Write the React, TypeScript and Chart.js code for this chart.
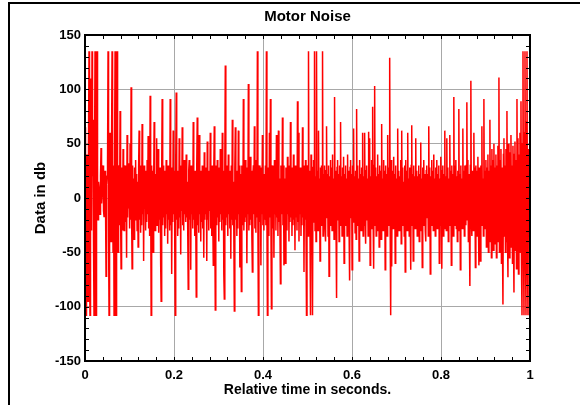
import React, { useEffect, useRef } from 'react';
import { Chart, registerables } from 'chart.js';

Chart.register(...registerables);

// Motor noise samples (dB), evenly spaced from t=0 to t=1
const noiseDb: number[] = [
  65, 20, -108, 30, 40, -10, -95, 50, 135, -60, -108, 70, 110, -30, 135, 20, 72, -40, -108, 30,
  135, -60, -108, 40, 135, 10, -20, 15, 10, -10, -15, 20, 46, -5, 5, 25, 30, -12, -17, 18,
  25, -8, -72, 12, 20, 30, 135, -30, -108, 45, 60, -20, -40, 50, 135, 20, -50, 30, -108, 40,
  135, -20, -108, 35, 135, -40, -50, 25, 30, -25, 80, -15, -65, 28, 20, -30, 45, -20, -30, 22,
  30, -22, 15, -55, 58, -18, 25, -10, 32, -28, 50, -20, 102, -15, -65, 30, -25, 18, -38, 28,
  -20, 35, -12, 22, -30, 15, -45, 28, 62, -20, 30, -32, 12, -25, 68, -15, 22, -58, 30, -10,
  25, -30, 18, -22, 35, -15, 57, -28, 20, -35, 94, 15, -108, 30, -20, 25, -50, 12, 70, -25,
  -30, 22, -15, 55, -25, 18, 45, -32, 15, -20, 28, -60, -95, 20, 91, -25, 30, -18, 25, -35,
  20, -28, 35, -15, 22, -42, 30, -20, 15, -30, 91, -25, 28, -70, 18, -22, 62, -15, 25, -32,
  -108, 30, 97, -20, 25, -35, 15, -28, 55, -18, 22, -52, 30, -12, 65, -25, 20, -30, 35, -15,
  28, -22, 40, -18, 15, -30, -84, 25, 35, -20, 18, -66, 30, -15, 22, -28, 70, -20, 15, -35,
  25, -18, -91, 30, 74, -25, 20, -32, 58, -15, 25, -40, 18, -22, 30, -28, 15, -55, 42, -20,
  28, -15, 22, -58, 52, -20, 18, -30, 25, -12, 60, -28, 20, -35, 30, -18, -62, 25, 66, -22,
  -103, 30, 20, -25, 35, -18, 15, -40, 28, -22, 45, -15, 20, -30, 60, -20, 25, -70, -93, 30,
  122, -25, 30, -18, 22, -35, 40, -15, 25, -28, 18, -56, 30, -20, 72, -25, 15, -32, -104, 28,
  65, -20, 25, -35, 18, -28, 62, -15, 30, -64, 22, -18, -86, 30, 20, -25, 91, -30, 15, -22,
  35, -18, 28, -60, 22, -15, 105, -30, 18, -25, 38, -20, 25, -35, -68, 20, 30, -15, 66, -28,
  20, -32, 35, -18, 135, -20, -108, 25, 30, -22, 18, -62, 28, -15, 58, -25, 22, -30, 15, -20,
  30, -25, 135, -15, -108, 28, 20, -35, 60, -18, 91, -20, -102, 25, 30, -28, 18, -55, 35, -15,
  22, -30, 58, -18, 25, -35, 62, -22, 18, -28, -79, 30, 20, -15, 74, -25, 30, -62, 18, -20,
  -60, 28, 20, -30, 38, -15, 25, -40, 30, -22, 70, -18, 22, -35, 28, -25, 40, -20, 15, -48,
  30, -18, 25, -30, 89, -22, 60, -40, 18, -15, 28, -35, 20, -25, 65, -18, 30, -68, 22, -20,
  35, -25, -108, 30, 20, -35, 135, -20, 25, -30, -108, 40, 20, -15, -108, 28, 35, -22, 135, -30,
  20, -40, 135, -18, 25, -30, 62, -22, 18, -58, 28, -15, 30, -25, 135, -35, 22, -20, 30, -28,
  -40, 25, 66, -18, 22, -35, 30, -72, 20, -25, 35, -15, 28, -30, 40, -22, 18, -38, 93, -20,
  25, -30, -92, 28, 35, -20, 22, -40, 30, -18, 70, -25, 20, -35, 28, -15, 38, -60, 22, -20,
  30, -25, 18, -35, 40, -20, 25, -30, -76, 28, 35, -18, 22, -66, 30, -22, 64, -15, 20, -32,
  25, -38, 82, -20, 30, -25, 18, -58, 35, -15, 22, -30, 28, -20, 60, -35, 20, -25, 60, -18,
  -42, 25, 30, -20, 18, -35, 61, -22, 55, -62, 20, -15, 35, -28, 84, -20, -65, 30, 103, -25,
  28, -35, 20, -18, 40, -30, 22, -45, 30, -15, 25, -38, 68, -20, 18, -30, 35, -22, 25, -66,
  30, -20, 22, -35, 58, -18, 28, -25, 129, -30, -108, 35, -63, 25, 20, -28, 38, -15, 22, -60,
  30, -22, 18, -35, 64, -20, 25, -30, 20, -18, 35, -42, 62, -25, 28, -20, 15, -35, 30, -68,
  35, -20, 25, -30, 60, -22, 18, -35, 28, -15, -66, 30, 67, -25, 22, -58, 30, -18, 20, -28,
  55, -22, 25, -35, 20, -18, 30, -40, 22, -25, 51, -30, 18, -64, 28, -15, 35, -25, 22, -30,
  -40, 25, 30, -18, 22, -35, 66, -20, 28, -70, 20, -25, 35, -15, 25, -30, 40, -22, 18, -35,
  28, -20, 35, -28, 22, -15, 30, -60, 18, -25, 38, -18, -65, 25, 30, -35, 22, -20, 62, -28,
  20, -30, 55, -22, 28, -40, 18, -25, 58, -18, 25, -62, 30, -20, 22, -35, 93, -25, 30, -18,
  35, -28, 20, -40, 25, -18, 82, -30, 22, -66, 30, -20, 18, -28, 64, -22, 25, -35, 30, -15,
  -25, 30, 88, -20, 35, -40, 22, -28, -81, 30, 108, -22, -35, 25, 20, -30, 60, -18, 28, -64,
  30, -20, 25, -35, 38, -18, -62, 28, 22, -58, 30, -25, 66, -22, 18, -35, 91, -28, 25, -20,
  35, -45, 28, -30, 40, -50, 25, -35, 72, -40, 30, -55, 45, -25, 35, -48, 50, -30, 28, -42,
  40, -55, 30, -35, 48, -40, 111, -50, 35, -30, 45, -60, 28, -38, -98, 40, 55, -35, 30, -50,
  45, -40, 80, -30, -73, 50, 35, -55, 42, -35, 58, -45, 30, -60, 48, -38, -87, 40, 52, -48,
  35, -65, 91, -45, 55, -70, 40, -50, 60, -40, 89, -60, -108, 50, 135, -40, -108, 60, 135, -50,
  -108, 70, 135, -60, -108, 45, 40, -30, 50,
];

const timeStart = 0;
const timeEnd = 1;

const xTickValues = [0, 0.2, 0.4, 0.6, 0.8, 1];
const xTickLabels = ['0', '0.2', '0.4', '0.6', '0.8', '1'];
const yTickValues = [-150, -100, -50, 0, 50, 100, 150];
const yTickLabels = ['-150', '-100', '-50', '0', '50', '100', '150'];
const xMinorTicks = [
  0.04, 0.08, 0.12, 0.16, 0.2, 0.24, 0.28, 0.32, 0.36, 0.4, 0.44, 0.48,
  0.52, 0.56, 0.6, 0.64, 0.68, 0.72, 0.76, 0.8, 0.84, 0.88, 0.92, 0.96,
];
const yMinorTicks = [
  -140, -130, -120, -110, -100, -90, -80, -70, -60, -50, -40, -30, -20, -10, 0,
  10, 20, 30, 40, 50, 60, 70, 80, 90, 100, 110, 120, 130, 140,
];

const FONT = "'Liberation Sans', Arial, Helvetica, sans-serif";

const frameTicksPlugin = {
  id: 'frameTicks',
  afterDraw(chart: any) {
    const { ctx, chartArea: a, scales } = chart;
    const xs = scales.x;
    const ys = scales.y;
    ctx.save();
    ctx.strokeStyle = '#000';
    ctx.lineWidth = 1;
    ctx.beginPath();
    for (const v of xMinorTicks) {
      const px = Math.round(xs.getPixelForValue(v)) + 0.5;
      ctx.moveTo(px, a.bottom);
      ctx.lineTo(px, a.bottom - 4);
      ctx.moveTo(px, a.top);
      ctx.lineTo(px, a.top + 4);
    }
    for (const v of yMinorTicks) {
      const py = Math.round(ys.getPixelForValue(v)) + 0.5;
      ctx.moveTo(a.left, py);
      ctx.lineTo(a.left + 4, py);
      ctx.moveTo(a.right, py);
      ctx.lineTo(a.right - 4, py);
    }
    ctx.stroke();
    ctx.lineWidth = 2;
    ctx.strokeRect(a.left, a.top, a.right - a.left, a.bottom - a.top);
    ctx.restore();
  },
};

export default function App() {
  const canvasRef = useRef<HTMLCanvasElement | null>(null);

  useEffect(() => {
    document.body.style.overflow = 'hidden';
    const canvas = canvasRef.current;
    if (!canvas) return;
    const step = (timeEnd - timeStart) / (noiseDb.length - 1);
    const points = noiseDb.map((v, i) => ({ x: timeStart + i * step, y: v }));

    const chart = new Chart(canvas, {
      type: 'line',
      data: {
        datasets: [
          {
            data: points,
            borderColor: '#ff0000',
            borderWidth: 1.5,
            pointRadius: 0,
            tension: 0,
            fill: false,
          },
        ],
      },
      options: {
        animation: false,
        responsive: false,
        events: [],
        layout: { padding: { top: 8, right: 50, bottom: 0, left: 0 } },
        plugins: {
          legend: { display: false },
          tooltip: { enabled: false },
          title: {
            display: true,
            text: 'Motor Noise',
            fullSize: false,
            color: '#000',
            font: { family: FONT, size: 15, weight: 'bold' },
            padding: { top: 0, bottom: 9 },
          },
        },
        scales: {
          x: {
            type: 'linear',
            min: timeStart,
            max: timeEnd,
            afterBuildTicks: (scale: any) => {
              scale.ticks = xTickValues.map((v) => ({ value: v }));
            },
            afterFit: (scale: any) => {
              scale.height = 44;
            },
            ticks: {
              color: '#000',
              font: { family: FONT, size: 13, weight: 'bold' },
              padding: 7,
              maxRotation: 0,
              autoSkip: false,
              callback: (_v: any, i: number) => xTickLabels[i],
            },
            grid: { color: '#a8a8a8', lineWidth: 1, drawTicks: false },
            border: { display: false },
            title: {
              display: true,
              text: 'Relative time in seconds.',
              color: '#000',
              font: { family: FONT, size: 14, weight: 'bold' },
              padding: { top: 0, bottom: 6 },
            },
          },
          y: {
            type: 'linear',
            min: -150,
            max: 150,
            afterBuildTicks: (scale: any) => {
              scale.ticks = yTickValues.map((v) => ({ value: v }));
            },
            afterFit: (scale: any) => {
              scale.width = 85;
            },
            ticks: {
              color: '#000',
              font: { family: FONT, size: 13, weight: 'bold' },
              padding: 4,
              autoSkip: false,
              callback: (_v: any, i: number) => yTickLabels[i],
            },
            grid: { color: '#a8a8a8', lineWidth: 1, drawTicks: false },
            border: { display: false },
            title: {
              display: true,
              text: 'Data in db',
              color: '#000',
              font: { family: FONT, size: 15, weight: 'bold' },
              padding: { top: 32, bottom: 0 },
            },
          },
        },
      },
      plugins: [frameTicksPlugin],
    } as any);

    return () => {
      chart.destroy();
    };
  }, []);

  return (
    <div>
      <div
        style={{
          position: 'fixed',
          left: 8,
          top: 2,
          width: 640,
          height: 480,
          border: '2px solid #000',
          boxSizing: 'border-box',
        }}
      />
      <canvas
        ref={canvasRef}
        width={580}
        height={405}
        style={{ position: 'fixed', left: 0, top: 0, width: 580, height: 405 }}
      />
    </div>
  );
}
